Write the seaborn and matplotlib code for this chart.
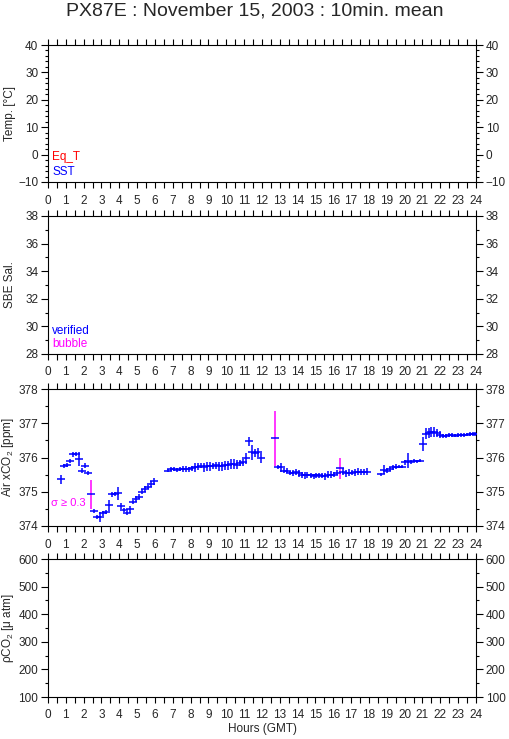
import numpy as np
import pandas as pd
import seaborn as sns
from matplotlib import pyplot as plt
from matplotlib.ticker import MultipleLocator

# 10 min mean of air xCO2
hours = [0.75, 0.92, 1.08, 1.25, 1.42, 1.58, 1.75, 1.92, 2.08, 2.25, 2.42, 2.58,
         2.75, 2.92, 3.08, 3.25, 3.42, 3.58, 3.75, 3.92, 4.08, 4.25, 4.42, 4.58,
         4.75, 4.92, 5.08, 5.25, 5.42, 5.58, 5.75, 5.92,
         6.75, 6.92, 7.08, 7.25, 7.42, 7.58, 7.75, 7.92, 8.08, 8.25, 8.42, 8.58,
         8.75, 8.92, 9.08, 9.25, 9.42, 9.58, 9.75, 9.92, 10.08, 10.25, 10.42, 10.58,
         10.75, 10.92, 11.08, 11.25, 11.42, 11.58, 11.75, 11.92,
         12.73, 12.89, 13.05, 13.22, 13.39, 13.55, 13.72, 13.89, 14.05, 14.22, 14.39, 14.55,
         14.72, 14.89, 15.05, 15.22, 15.39, 15.55, 15.72, 15.89, 16.05, 16.22, 16.39, 16.55,
         16.72, 16.89, 17.05, 17.22, 17.39, 17.55, 17.72, 17.89,
         18.69, 18.86, 19.03, 19.20, 19.36, 19.53, 19.70, 19.87, 20.04, 20.20, 20.37, 20.54,
         20.71, 20.88, 21.03, 21.19, 21.34, 21.50, 21.66, 21.83, 21.98, 22.13, 22.30, 22.47,
         22.63, 22.80, 22.97, 23.14, 23.31, 23.47, 23.64, 23.81, 23.94]

xco2 = [375.36, 375.76, 375.78, 375.89, 376.09, 376.09, 375.95, 375.62, 375.76, 375.55, 374.93, 374.45,
        374.26, 374.26, 374.37, 374.41, 374.60, 374.93, 374.93, 374.95, 374.58, 374.47, 374.37, 374.49,
        374.70, 374.79, 374.86, 375.00, 375.08, 375.15, 375.23, 375.31,
        375.62, 375.66, 375.66, 375.64, 375.66, 375.67, 375.67, 375.65, 375.68, 375.71, 375.73, 375.76,
        375.71, 375.74, 375.74, 375.75, 375.77, 375.74, 375.74, 375.77, 375.77, 375.81, 375.81, 375.79,
        375.84, 375.86, 375.98, 376.48, 376.15, 376.13, 376.15, 375.99,
        376.56, 375.71, 375.71, 375.62, 375.62, 375.56, 375.54, 375.57, 375.54, 375.50, 375.48, 375.48,
        375.48, 375.45, 375.48, 375.48, 375.47, 375.45, 375.50, 375.50, 375.50, 375.56, 375.68, 375.58,
        375.54, 375.56, 375.56, 375.57, 375.59, 375.57, 375.57, 375.58,
        375.51, 375.64, 375.62, 375.66, 375.71, 375.73, 375.73, 375.73, 375.86, 375.91, 375.86, 375.91,
        375.89, 375.91, 376.39, 376.69, 376.71, 376.74, 376.74, 376.71, 376.66, 376.63, 376.63, 376.66,
        376.66, 376.64, 376.66, 376.66, 376.66, 376.67, 376.69, 376.69, 376.69]

sigma = [0.12, 0.06, 0.05, 0.06, 0.07, 0.06, 0.20, 0.08, 0.07, 0.06, 0.42, 0.06,
         0.06, 0.15, 0.08, 0.06, 0.15, 0.07, 0.06, 0.18, 0.08, 0.06, 0.06, 0.10,
         0.06, 0.08, 0.08, 0.08, 0.08, 0.06, 0.08, 0.10,
         0.05, 0.05, 0.06, 0.06, 0.05, 0.08, 0.08, 0.07, 0.07, 0.12, 0.10, 0.08,
         0.12, 0.12, 0.12, 0.10, 0.10, 0.12, 0.12, 0.14, 0.14, 0.14, 0.14, 0.14,
         0.10, 0.10, 0.16, 0.13, 0.22, 0.12, 0.13, 0.15,
         0.80, 0.06, 0.14, 0.08, 0.07, 0.06, 0.09, 0.08, 0.10, 0.09, 0.10, 0.09,
         0.08, 0.07, 0.08, 0.08, 0.08, 0.10, 0.10, 0.10, 0.08, 0.08, 0.32, 0.10,
         0.10, 0.10, 0.08, 0.10, 0.10, 0.08, 0.08, 0.10,
         0.05, 0.13, 0.08, 0.06, 0.08, 0.07, 0.05, 0.05, 0.08, 0.23, 0.05, 0.05,
         0.05, 0.05, 0.21, 0.16, 0.14, 0.14, 0.14, 0.12, 0.10, 0.07, 0.06, 0.06,
         0.06, 0.05, 0.06, 0.05, 0.05, 0.05, 0.05, 0.05, 0.05]

df = pd.DataFrame({'Hours': hours, 'xCO2': xco2, 'sigma': sigma})
df['big'] = df['sigma'] >= 0.3

sns.set_style('ticks')
plt.rcParams['font.family'] = ['Liberation Sans', 'DejaVu Sans']
plt.rcParams['mathtext.fontset'] = 'custom'
plt.rcParams['mathtext.rm'] = 'Liberation Sans'
plt.rcParams['mathtext.it'] = 'Liberation Sans:italic'

fig = plt.figure(figsize=(5.09, 7.39), dpi=100)

left, width = 48 / 509, 428 / 509
panels = [  # (top px, bottom px, ymin, ymax, major, minor, label)
    (45, 182, -10, 40, 10, 2, 'Temp. [°C]'),
    (216, 354, 28, 38, 2, 1, 'SBE Sal.'),
    (389, 526, 374, 378, 1, 0.5, 'Air xCO$_2$ [ppm]'),
    (559, 697, 100, 600, 100, 50, 'ρCO$_2$ [μ atm]'),
]
axes = []
for top, bot, ymin, ymax, major, minor, label in panels:
    ax = fig.add_axes([left, 1 - bot / 739, width, (bot - top) / 739])
    ax.set_xlim(0, 24)
    ax.set_ylim(ymin, ymax)
    ax.xaxis.set_major_locator(MultipleLocator(1))
    ax.xaxis.set_minor_locator(MultipleLocator(0.5))
    ax.yaxis.set_major_locator(MultipleLocator(major))
    ax.yaxis.set_minor_locator(MultipleLocator(minor))
    ax.tick_params(axis='both', which='both', direction='out', top=True, right=True,
                   labelright=True, labelsize=8.5, color='black', width=0.8, pad=2)
    ax.tick_params(axis='x', which='both', length=4, pad=5)
    ax.tick_params(axis='y', which='major', length=5)
    ax.tick_params(axis='y', which='minor', length=2.5)
    for s in ax.spines.values():
        s.set_linewidth(0.8)
        s.set_color('black')
    ax.set_ylabel(label, fontsize=8.5)
    ax.yaxis.set_label_coords(-0.074, 0.5)
    axes.append(ax)

ax1, ax2, ax3, ax4 = axes

ax1.text(0.01, 0.18, 'Eq_T', color='red', fontsize=8.5, transform=ax1.transAxes, va='center')
ax1.text(0.01, 0.07, 'SST', color='blue', fontsize=8.5, transform=ax1.transAxes, va='center')
ax2.text(0.01, 0.17, 'verified', color='blue', fontsize=8.5, transform=ax2.transAxes, va='center')
ax2.text(0.01, 0.07, 'bubble', color='magenta', fontsize=8.5, transform=ax2.transAxes, va='center')

# error bars: magenta where sigma >= 0.3
small = df[~df['big']]
large = df[df['big']]
ax3.errorbar(small['Hours'], small['xCO2'], yerr=small['sigma'], fmt='none',
             ecolor='blue', elinewidth=1.1, capsize=0)
ax3.errorbar(large['Hours'], large['xCO2'], yerr=large['sigma'], fmt='none',
             ecolor='magenta', elinewidth=1.1, capsize=0)
sns.scatterplot(data=df, x='Hours', y='xCO2', marker='_', s=30, color='blue',
                linewidth=1.1, ax=ax3, legend=False, zorder=3)
ax3.set_xlabel('')
ax3.set_ylabel('Air xCO$_2$ [ppm]', fontsize=8.5)
ax3.yaxis.set_label_coords(-0.074, 0.5)
ax3.text(0.006, 0.17, 'σ ≥ 0.3', color='magenta', fontsize=8, transform=ax3.transAxes,
         va='center')

ax4.set_xlabel('Hours (GMT)', fontsize=8.5, labelpad=1)

fig.suptitle('PX87E : November 15, 2003 : 10min. mean', y=0.997, fontsize=14)

fig.savefig('out.png', dpi=100)
